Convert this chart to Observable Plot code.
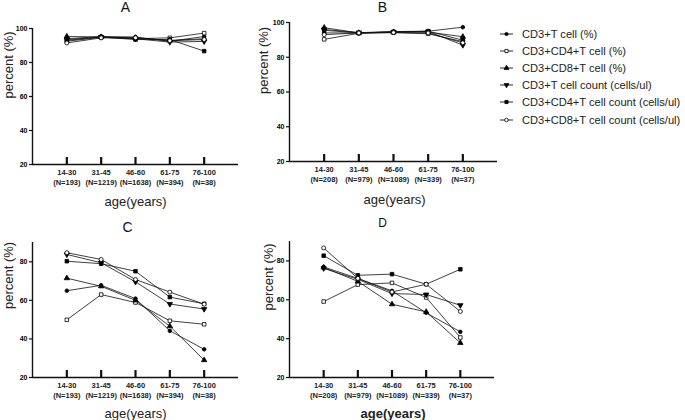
<!DOCTYPE html>
<html>
<head>
<meta charset="utf-8">
<script src="https://cdn.jsdelivr.net/npm/d3@7"></script>
<script src="https://cdn.jsdelivr.net/npm/@observablehq/plot@0.6"></script>
<style>
  html, body { margin: 0; padding: 0; background: #fff; }
  #wrap { position: relative; width: 685px; height: 420px; overflow: hidden; font-family: "Liberation Sans", Arial, sans-serif; }
  .panel { position: absolute; }
  #legend { position: absolute; left: 498px; top: 25px; font-size: 11.1px; color: #222; }
  .lrow { height: 17.2px; display: flex; align-items: center; white-space: nowrap; }
  .lrow svg { margin-right: 8px; }
</style>
</head>
<body>
<div id="wrap"></div>
<script>
// ---------- data ----------
const ageGroups = ["14-30", "31-45", "46-60", "61-75", "76-100"];
const countsAC = ["N=193", "N=1219", "N=1638", "N=394", "N=38"];
const countsBD = ["N=208", "N=979", "N=1089", "N=339", "N=37"];
const seriesNames = [
  "CD3+T cell (%)",
  "CD3+CD4+T cell (%)",
  "CD3+CD8+T cell (%)",
  "CD3+T cell count (cells/ul)",
  "CD3+CD4+T cell count (cells/ul)",
  "CD3+CD8+T cell count (cells/ul)"
];
// one row per series (same order as seriesNames), one value per age group
const valuesA = [
  [94.0, 95.3, 95.0, 92.5, 95.3],
  [92.5, 94.8, 94.0, 94.5, 97.3],
  [95.3, 95.0, 94.5, 93.0, 94.0],
  [93.5, 95.0, 94.0, 92.0, 92.4],
  [93.0, 95.0, 93.5, 93.5, 86.7],
  [91.5, 94.5, 94.5, 92.8, 93.5]
];
const valuesB = [
  [95.5, 94.0, 94.8, 95.0, 97.3],
  [90.3, 93.8, 94.2, 93.5, 89.0],
  [97.0, 94.0, 94.5, 94.5, 91.8],
  [96.0, 94.2, 94.6, 94.8, 87.0],
  [94.0, 94.0, 94.5, 95.0, 89.8],
  [93.0, 94.0, 94.2, 94.0, 88.3]
];
const valuesC = [
  [65.0, 67.8, 60.9, 44.2, 34.6],
  [49.9, 63.0, 58.9, 49.4, 47.6],
  [71.5, 67.3, 60.0, 46.6, 29.0],
  [83.8, 79.5, 69.6, 58.1, 55.5],
  [80.3, 79.0, 75.1, 61.7, 58.2],
  [84.7, 81.2, 70.8, 64.3, 58.0]
];
const valuesD = [
  [76.9, 71.0, 64.6, 53.3, 43.5],
  [59.1, 67.8, 68.7, 61.2, 40.6],
  [76.6, 69.5, 57.7, 53.8, 37.8],
  [76.2, 70.5, 63.2, 62.7, 57.2],
  [82.7, 72.6, 73.2, 68.0, 75.7],
  [86.7, 71.0, 64.0, 68.0, 54.0]
];
const yTicksAB = [20, 40, 60, 80, 100];
const yTicksCD = [20, 40, 60, 80];

// ---------- styles ----------
const symbols = [
  {symbol: "circle", fill: "black", stroke: "black", rotate: 0, r: 1.8},
  {symbol: "square", fill: "white", stroke: "black", rotate: 0, r: 2.0},
  {symbol: "triangle", fill: "black", stroke: "black", rotate: 0, r: 2.0},
  {symbol: "triangle", fill: "black", stroke: "black", rotate: 180, r: 2.0},
  {symbol: "square", fill: "black", stroke: "black", rotate: 0, r: 2.0},
  {symbol: "circle", fill: "white", stroke: "black", rotate: 0, r: 2.0}
];
const FONT = '"Liberation Sans", Arial, sans-serif';

function panel(cfg) {
  const rows = [];
  cfg.values.forEach((vals, s) => vals.forEach((v, i) => rows.push({s, i, v})));
  const idx = ageGroups.map((_, i) => i);
  const plotH = cfg.height - cfg.marginTop - cfg.marginBottom;
  const unitsPerPx = (cfg.yDomain[1] - cfg.yDomain[0]) / plotH;
  const tickLen = 7 * unitsPerPx;
  const marks = [
    Plot.ruleY([cfg.yDomain[0]], {stroke: "#111", strokeWidth: 1.4}),
    Plot.ruleX([-1], {stroke: "#111", strokeWidth: 1.4}),
    Plot.ruleX(idx, {x: d => d, y1: cfg.yDomain[0], y2: cfg.yDomain[0] + tickLen, stroke: "#111", strokeWidth: 2.2}),
    Plot.axisY({ticks: cfg.yTicks, tickSize: 3, tickPadding: 2, fontSize: 7, fontWeight: "bold", label: null, stroke: "#111", strokeWidth: 1.2}),
    Plot.text(idx, {
      x: d => d, y: cfg.yDomain[0],
      text: d => ageGroups[d] + "\n(" + cfg.counts[d] + ")",
      lineAnchor: "top", dy: 3, lineHeight: 1.33, fontSize: 7.5, fontWeight: "bold", fill: "#222"
    }),
    Plot.line(rows, {x: "i", y: "v", z: "s", stroke: "#111", strokeWidth: 0.8}),
    ...symbols.map((sym, s) => Plot.dot(rows.filter(d => d.s === s), {
      x: "i", y: "v", symbol: sym.symbol, fill: sym.fill, stroke: sym.stroke,
      strokeWidth: 0.8, r: sym.r, rotate: sym.rotate
    })),
    Plot.text([cfg.title], {frameAnchor: "top", lineAnchor: "middle", dx: cfg.titleDx, dy: cfg.titleDy, fontSize: cfg.titleSize, fill: "#111"}),
    Plot.text(["age(years)"], {frameAnchor: "bottom", lineAnchor: "middle", dx: cfg.xlabDx, dy: cfg.xlabDy, fontSize: 13, fontWeight: cfg.xlabWeight, fill: "#222"}),
    Plot.text(["percent (%)"], {frameAnchor: "left", lineAnchor: "middle", dx: cfg.ylabDx, dy: cfg.ylabDy, rotate: -90, fontSize: 13, fill: "#222"})
  ];
  const chart = Plot.plot({
    width: cfg.width, height: cfg.height,
    marginLeft: cfg.marginLeft, marginRight: cfg.marginRight,
    marginTop: cfg.marginTop, marginBottom: cfg.marginBottom,
    x: {type: "linear", domain: [-1, 5], axis: null},
    y: {domain: cfg.yDomain},
    style: {fontFamily: FONT, background: "transparent", overflow: "visible"},
    marks
  });
  const div = document.createElement("div");
  div.className = "panel";
  div.style.left = cfg.left + "px";
  div.style.top = cfg.top + "px";
  div.appendChild(chart);
  document.getElementById("wrap").appendChild(div);
}

panel({title: "A", values: valuesA, counts: countsAC, yDomain: [20, 100], yTicks: yTicksAB,
  left: 0, top: 0, width: 240, height: 210, marginLeft: 32, marginRight: 2, marginTop: 28, marginBottom: 46,
  titleDx: -10, titleDy: -21, titleSize: 14, xlabDx: 0, xlabDy: 37, xlabWeight: "normal", ylabDx: -24, ylabDy: 2});
panel({title: "B", values: valuesB, counts: countsBD, yDomain: [20, 100], yTicks: yTicksAB,
  left: 240, top: 0, width: 260, height: 210, marginLeft: 49, marginRight: 3, marginTop: 22, marginBottom: 49,
  titleDx: -11, titleDy: -15, titleSize: 14, xlabDx: 1, xlabDy: 38, xlabWeight: "normal", ylabDx: -26, ylabDy: 2});
panel({title: "C", values: valuesC, counts: countsAC, yDomain: [20, 90], yTicks: yTicksCD,
  left: 0, top: 210, width: 240, height: 210, marginLeft: 32, marginRight: 2, marginTop: 32, marginBottom: 43,
  titleDx: -8, titleDy: -15, titleSize: 14, xlabDx: 0, xlabDy: 36, xlabWeight: "normal", ylabDx: -24, ylabDy: -1});
panel({title: "D", values: valuesD, counts: countsBD, yDomain: [20, 90], yTicks: yTicksCD,
  left: 240, top: 210, width: 256, height: 210, marginLeft: 49, marginRight: 2, marginTop: 31, marginBottom: 43,
  titleDx: -9.5, titleDy: -18, titleSize: 12, xlabDx: 1, xlabDy: 36, xlabWeight: "bold", ylabDx: -21, ylabDy: 1});

// ---------- legend ----------
const legend = document.createElement("div");
legend.id = "legend";
const ns = "http://www.w3.org/2000/svg";
const symMap = {circle: d3.symbolCircle, square: d3.symbolSquare, triangle: d3.symbolTriangle};
seriesNames.forEach((name, s) => {
  const sym = symbols[s];
  const row = document.createElement("div");
  row.className = "lrow";
  const svg = document.createElementNS(ns, "svg");
  svg.setAttribute("width", 16); svg.setAttribute("height", 10);
  const line = document.createElementNS(ns, "line");
  line.setAttribute("x1", 2); line.setAttribute("x2", 15); line.setAttribute("y1", 5); line.setAttribute("y2", 5);
  line.setAttribute("stroke", "#111"); line.setAttribute("stroke-width", 0.9);
  svg.appendChild(line);
  const path = document.createElementNS(ns, "path");
  path.setAttribute("d", d3.symbol(symMap[sym.symbol], Math.PI * sym.r * sym.r * 0.8)());
  path.setAttribute("transform", `translate(8.5,5) rotate(${sym.rotate})`);
  path.setAttribute("fill", sym.fill); path.setAttribute("stroke", sym.stroke); path.setAttribute("stroke-width", 0.8);
  svg.appendChild(path);
  row.appendChild(svg);
  const span = document.createElement("span");
  span.textContent = name;
  row.appendChild(span);
  legend.appendChild(row);
});
document.getElementById("wrap").appendChild(legend);
</script>
</body>
</html>
